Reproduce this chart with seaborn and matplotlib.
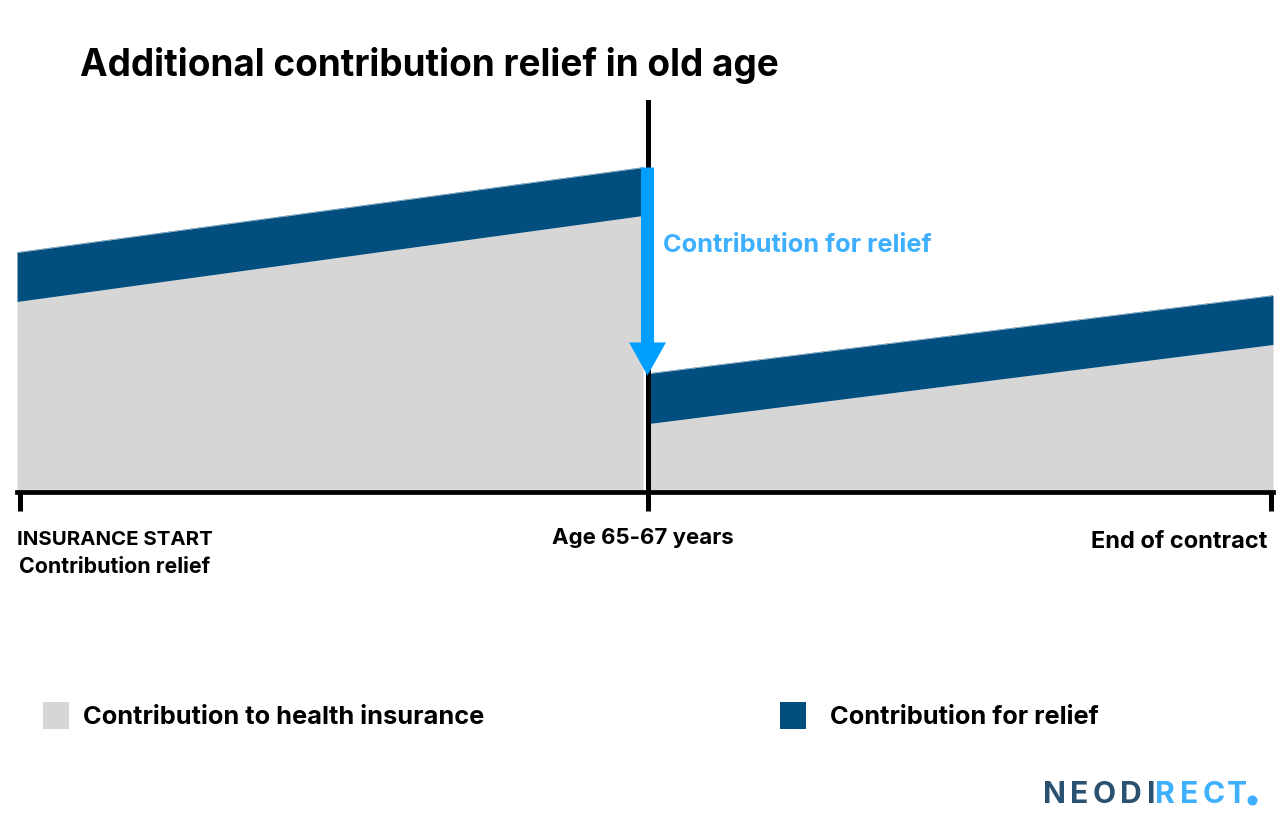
import matplotlib
matplotlib.use("Agg")
import matplotlib.pyplot as plt
import seaborn as sns
import numpy as np
from matplotlib.lines import Line2D
from matplotlib.patches import Patch

# --- data (timeline units along the contract, contribution units upward) ---
years_before = [0, 626]
health_before = [191, 277]
relief_before = [49, 48]
years_after = [632, 1256]
health_after = [69, 148]
relief_after = [50, 49]
switch_year = 630.5
tick_years = [2.5, 630.5, 1253.5]
drop_top = 325
drop_bottom = 117

title = "Additional contribution relief in old age"
arrow_label = "Contribution for relief"
label_start_1 = "INSURANCE START"
label_start_2 = "Contribution relief"
label_mid = "Age 65-67 years"
label_end = "End of contract"
legend_health = "Contribution to health insurance"
legend_relief = "Contribution for relief"
logo_letters = list("NEODIRECT")
logo_colors = ["d", "d", "d", "d", "d", "l", "l", "l", "l"]

GREY = "#D6D6D6"
NAVY = "#024E7F"
ARROW = "#009FFF"
ARROW_TEXT = "#3FB0FF"
LOGO_DARK = "#2A5270"

W, H = 1286, 830
sns.set_theme(style="white")
plt.rcParams["font.family"] = ["Inter", "DejaVu Sans"]
plt.rcParams["font.weight"] = "bold"

fig = plt.figure(figsize=(W / 100, H / 100), dpi=100, facecolor="white")
ax = fig.add_axes([17 / W, (H - 492.5) / H, 1256 / W, 392.5 / H])
ax.set_xlim(0, 1256)
ax.set_ylim(0, 392.5)
ax.patch.set_alpha(0)


def fx(px):
    return px / W


def fy(px):
    return 1 - px / H


for xs, base, relief in [(years_before, health_before, relief_before),
                         (years_after, health_after, relief_after)]:
    xs = np.array(xs, float)
    base = np.array(base, float)
    top = base + np.array(relief, float)
    ax.fill_between(xs, 0, base, color=GREY, lw=0, zorder=1)
    ax.fill_between(xs, base, top, color=NAVY, lw=0, zorder=2)
    sns.lineplot(x=xs, y=top, ax=ax, color=NAVY, lw=0.3, legend=False, zorder=2)

# axis
ax.axvline(switch_year, color="black", lw=3.6, zorder=3)
for s in ["top", "left", "right"]:
    ax.spines[s].set_visible(False)
ax.spines["bottom"].set_linewidth(3.4)
ax.spines["bottom"].set_color("black")
ax.spines["bottom"].set_zorder(4)
ax.set_yticks([])
ax.set_xticks(tick_years)
ax.set_xticklabels([])
ax.set_xlabel("")
ax.set_ylabel("")
ax.tick_params(axis="x", direction="out", length=13.7, width=3.6, color="black", bottom=True)

# drop arrow
ax.annotate("", xy=(switch_year, drop_bottom), xytext=(switch_year, drop_top), zorder=5,
            arrowprops=dict(width=9.4, headwidth=26.6, headlength=23.8, shrink=0,
                            facecolor=ARROW, edgecolor="none"))

# texts
fig.text(fx(80), fy(66), title, fontsize=26.6, color="black", va="center", ha="left")
fig.text(fx(663), fy(245), arrow_label, fontsize=18.25, color=ARROW_TEXT, va="center", ha="left")
fig.text(fx(114.5), fy(540), label_start_1, fontsize=14.7, color="black", va="center", ha="center")
fig.text(fx(115), fy(567), label_start_2, fontsize=15.4, color="black", va="center", ha="center")
fig.text(fx(643), fy(538), label_mid, fontsize=16, color="black", va="center", ha="center")
fig.text(fx(1267), fy(542), label_end, fontsize=17, color="black", va="center", ha="right")

# legends
fs = 18.3


def add_legend(label, color, px, py, gap_px):
    u = 26 * 0.72 / fs
    return fig.legend(handles=[Patch(facecolor=color, edgecolor="none", label=label)],
                      loc="center left", bbox_to_anchor=(fx(px), fy(py)), frameon=False,
                      borderpad=0, borderaxespad=0, handlelength=u, handleheight=u + 0.25,
                      handletextpad=gap_px * 0.72 / fs, fontsize=fs, labelcolor="black")


add_legend(legend_health, GREY, 43, 715.5, 14)
add_legend(legend_relief, NAVY, 780, 715.5, 24)

# logo
logo_x = [1043, 1070, 1093, 1120, 1147, 1155, 1180, 1203, 1227]
for letter, shade, lx in zip(logo_letters, logo_colors, logo_x):
    fig.text(fx(lx), fy(795), letter, fontsize=21.7, va="center", ha="left",
             color=LOGO_DARK if shade == "d" else ARROW_TEXT)
fig.add_artist(Line2D([fx(1252)], [fy(800)], marker="o", markersize=7.2, color=ARROW_TEXT,
                      markeredgewidth=0, transform=fig.transFigure))

fig.savefig("out.png", dpi=100, facecolor="white")
